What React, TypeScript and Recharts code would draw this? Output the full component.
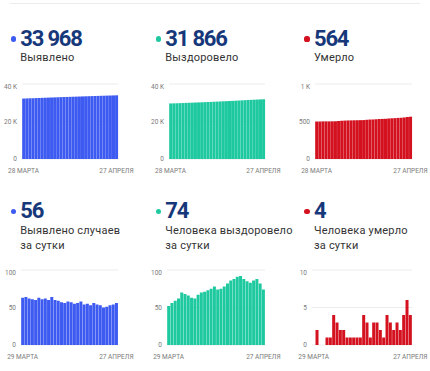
import { BarChart, Bar, XAxis, YAxis, CartesianGrid } from "recharts"

const dates28 = [
  "28 МАРТА", "29 МАРТА", "30 МАРТА", "31 МАРТА",
  "1 АПРЕЛЯ", "2 АПРЕЛЯ", "3 АПРЕЛЯ", "4 АПРЕЛЯ", "5 АПРЕЛЯ", "6 АПРЕЛЯ", "7 АПРЕЛЯ",
  "8 АПРЕЛЯ", "9 АПРЕЛЯ", "10 АПРЕЛЯ", "11 АПРЕЛЯ", "12 АПРЕЛЯ", "13 АПРЕЛЯ", "14 АПРЕЛЯ",
  "15 АПРЕЛЯ", "16 АПРЕЛЯ", "17 АПРЕЛЯ", "18 АПРЕЛЯ", "19 АПРЕЛЯ", "20 АПРЕЛЯ", "21 АПРЕЛЯ",
  "22 АПРЕЛЯ", "23 АПРЕЛЯ", "24 АПРЕЛЯ", "25 АПРЕЛЯ", "26 АПРЕЛЯ", "27 АПРЕЛЯ",
]
const dates29 = dates28.slice(1)

// cumulative, 28 March .. 27 April
const identifiedTotal = [
  32243, 32306, 32370, 32432, 32493, 32553, 32616, 32677, 32739, 32799, 32863,
  32923, 32982, 33039, 33095, 33153, 33210, 33265, 33321, 33379, 33433, 33488,
  33541, 33597, 33651, 33704, 33754, 33805, 33858, 33912, 33968,
]
const recoveredTotal = [
  29622, 29674, 29730, 29789, 29851, 29921, 29989, 30055, 30118, 30180, 30247,
  30317, 30388, 30461, 30536, 30614, 30688, 30763, 30841, 30923, 31009, 31097,
  31188, 31280, 31368, 31453, 31536, 31622, 31710, 31792, 31866,
]
const deathsTotal = [
  499, 499, 501, 501, 501, 502, 503, 507, 510, 512, 514, 515, 516, 517, 518, 519,
  523, 526, 527, 530, 533, 535, 536, 540, 543, 545, 548, 550, 554, 560, 564,
]

// per day, 29 March .. 27 April
const identifiedDaily = [
  63, 64, 62, 61, 60, 63, 61, 62, 60, 64, 60, 59, 57, 56, 58,
  57, 55, 56, 58, 54, 55, 53, 56, 54, 53, 50, 51, 53, 54, 56,
]
const recoveredDaily = [
  52, 56, 59, 62, 70, 68, 66, 63, 62, 67, 70, 71, 73, 75, 78,
  74, 75, 78, 82, 86, 88, 91, 92, 88, 85, 83, 86, 88, 82, 74,
]
const deathsDaily = [
  0, 2, 0, 0, 1, 1, 4, 3, 2, 2, 1, 1, 1, 1, 1,
  4, 3, 1, 3, 3, 2, 1, 4, 3, 2, 3, 2, 4, 6, 4,
]

const BLUE = "#3d5af1"
const TEAL = "#1fc9a0"
const RED = "#d3111f"
const NAVY = "#16387a"
const TICK_FILL = "#7a7a7a"

const kFormat = (v: number) => (v >= 1000 ? `${v / 1000} K` : String(v))

type ChartProps = {
  left: number
  top: number
  width: number
  yWidth: number
  right: number
  dates: string[]
  values: number[]
  color: string
  max: number
}

// plain svg text so recharts doesn't wrap "40 K" onto two lines
function YTick(props: any) {
  const { x, y, payload } = props
  return (
    <text x={x} y={y} dy={2.3} textAnchor="end" fontSize={6.5} fill={TICK_FILL} fontFamily="Roboto">
      {kFormat(payload.value)}
    </text>
  )
}

function MiniChart({ left, top, width, yWidth, right, dates, values, color, max }: ChartProps) {
  const data = dates.map((d, i) => ({ d, v: values[i] }))
  return (
    <div style={{ position: "absolute", left, top }}>
      <BarChart
        width={width}
        height={99}
        data={data}
        margin={{ top: 6, right, bottom: 0, left: 0 }}
        barCategoryGap={0.18}
      >
        <CartesianGrid vertical={false} stroke="#ececec" />
        <XAxis
          dataKey="d"
          interval={data.length - 2}
          axisLine={false}
          tickLine={false}
          tickSize={0}
          tickMargin={9}
          height={18}
          tick={{ fontSize: 6.5, fill: TICK_FILL, fontFamily: "Roboto" }}
        />
        <YAxis
          domain={[0, max]}
          ticks={[0, max / 2, max]}
          axisLine={false}
          tickLine={false}
          tickSize={0}
          tickMargin={5}
          width={yWidth}
          tick={<YTick />}
        />
        <Bar dataKey="v" fill={color} isAnimationActive={false} />
      </BarChart>
    </div>
  )
}

function Header({ dotX, dotY, color, total, lines }: { dotX: number; dotY: number; color: string; total: string; lines: string[] }) {
  return (
    <>
      <div
        style={{
          position: "absolute", left: dotX - 2.6, top: dotY - 2.6, width: 5.2, height: 5.2,
          borderRadius: "50%", background: color,
        }}
      />
      <div
        style={{
          position: "absolute", left: dotX + 7, top: dotY - 11.5, fontFamily: "Roboto", fontWeight: 700,
          fontSize: 22, lineHeight: "22px", letterSpacing: -1.2, color: NAVY, whiteSpace: "nowrap",
        }}
      >
        {total}
      </div>
      <div
        style={{
          position: "absolute", left: dotX + 7, top: dotY + 11, fontFamily: "Roboto",
          fontSize: 11, lineHeight: "15px", color: "#333", whiteSpace: "nowrap", letterSpacing: 0.2,
        }}
      >
        {lines.map((l) => (
          <div key={l}>{l}</div>
        ))}
      </div>
    </>
  )
}

export default function App() {
  return (
    <div style={{ position: "fixed", left: 0, top: 0, width: 430, height: 371, background: "#fff", overflow: "hidden" }}>
      <div style={{ position: "absolute", left: 10, top: 3, width: 410, height: 1, background: "#ececec" }} />

      <Header dotX={13.3} dotY={39} color={BLUE} total="33 968" lines={["Выявлено"]} />
      <Header dotX={158.3} dotY={39} color={TEAL} total="31 866" lines={["Выздоровело"]} />
      <Header dotX={307} dotY={39} color={RED} total="564" lines={["Умерло"]} />

      <MiniChart left={0} top={78} width={140} yWidth={22} right={22} dates={dates28} values={identifiedTotal} color={BLUE} max={40000} />
      <MiniChart left={147} top={78} width={140} yWidth={22} right={22} dates={dates28} values={recoveredTotal} color={TEAL} max={40000} />
      <MiniChart left={293} top={78} width={137} yWidth={22} right={18} dates={dates28} values={deathsTotal} color={RED} max={1000} />

      <Header dotX={13.3} dotY={211.5} color={BLUE} total="56" lines={["Выявлено случаев", "за сутки"]} />
      <Header dotX={158.3} dotY={211.5} color={TEAL} total="74" lines={["Человека выздоровело", "за сутки"]} />
      <Header dotX={307} dotY={211.5} color={RED} total="4" lines={["Человека умерло", "за сутки"]} />

      <MiniChart left={0} top={264} width={140} yWidth={21} right={22} dates={dates29} values={identifiedDaily} color={BLUE} max={100} />
      <MiniChart left={146} top={264} width={140} yWidth={21} right={21} dates={dates29} values={recoveredDaily} color={TEAL} max={100} />
      <MiniChart left={291} top={264} width={139} yWidth={21} right={18} dates={dates29} values={deathsDaily} color={RED} max={10} />
    </div>
  )
}
